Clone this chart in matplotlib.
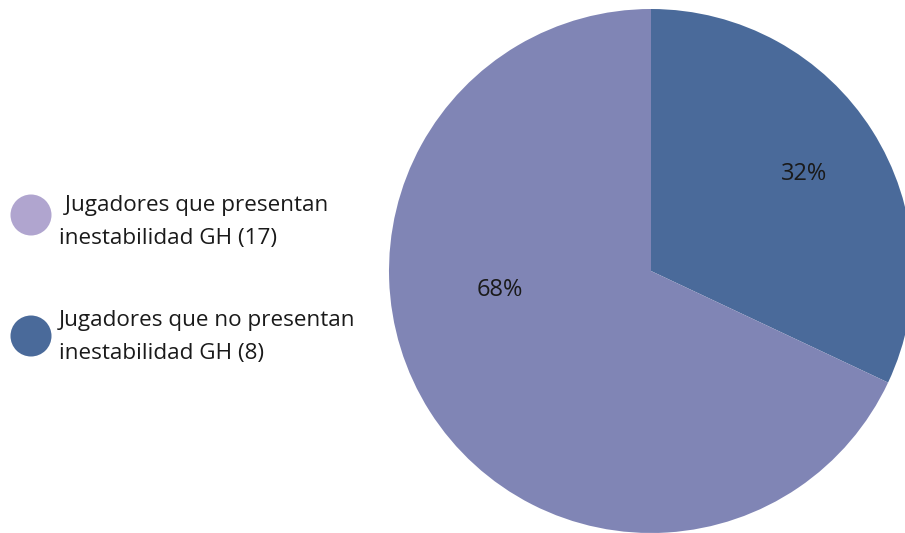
import matplotlib.pyplot as plt
from matplotlib.patches import Circle

# datos
labels = [' Jugadores que presentan\ninestabilidad GH (17)',
          'Jugadores que no presentan\ninestabilidad GH (8)']
counts = [17, 8]
slice_colors = ['#8085b5', '#4a6a9a']
legend_colors = ['#b0a5cf', '#4a6a9a']

plt.rcParams['font.family'] = ['Open Sans', 'DejaVu Sans']

fig = plt.figure(figsize=(9.05, 5.33), dpi=100)
ax = fig.add_axes([0, 0, 1, 1])

# pastel: 32% empieza arriba y va en sentido horario
wedges, texts, autotexts = ax.pie(
    counts[::-1], colors=slice_colors[::-1], startangle=90, counterclock=False,
    center=(651, 262), radius=262, autopct='%1.0f%%', pctdistance=0.69,
    textprops={'fontsize': 17, 'color': '#1a1a1a'}, frame=True)
ax.set_xlim(0, 905)
ax.set_ylim(0, 533)
ax.set_aspect('equal')
ax.axis('off')
# mover etiqueta del 68%
autotexts[1].set_position((500, 243))

# leyenda manual
circle_ys = [318, 197]
text_ys = [311, 196]
for lab, col, cy, ty in zip(labels, legend_colors, circle_ys, text_ys):
    ax.add_patch(Circle((31, cy), 20.5, color=col, lw=0))
    ax.text(59, ty, lab, fontsize=16.2, va='center', ha='left',
            color='#1a1a1a', linespacing=1.78)

fig.savefig('out.png', dpi=100)
